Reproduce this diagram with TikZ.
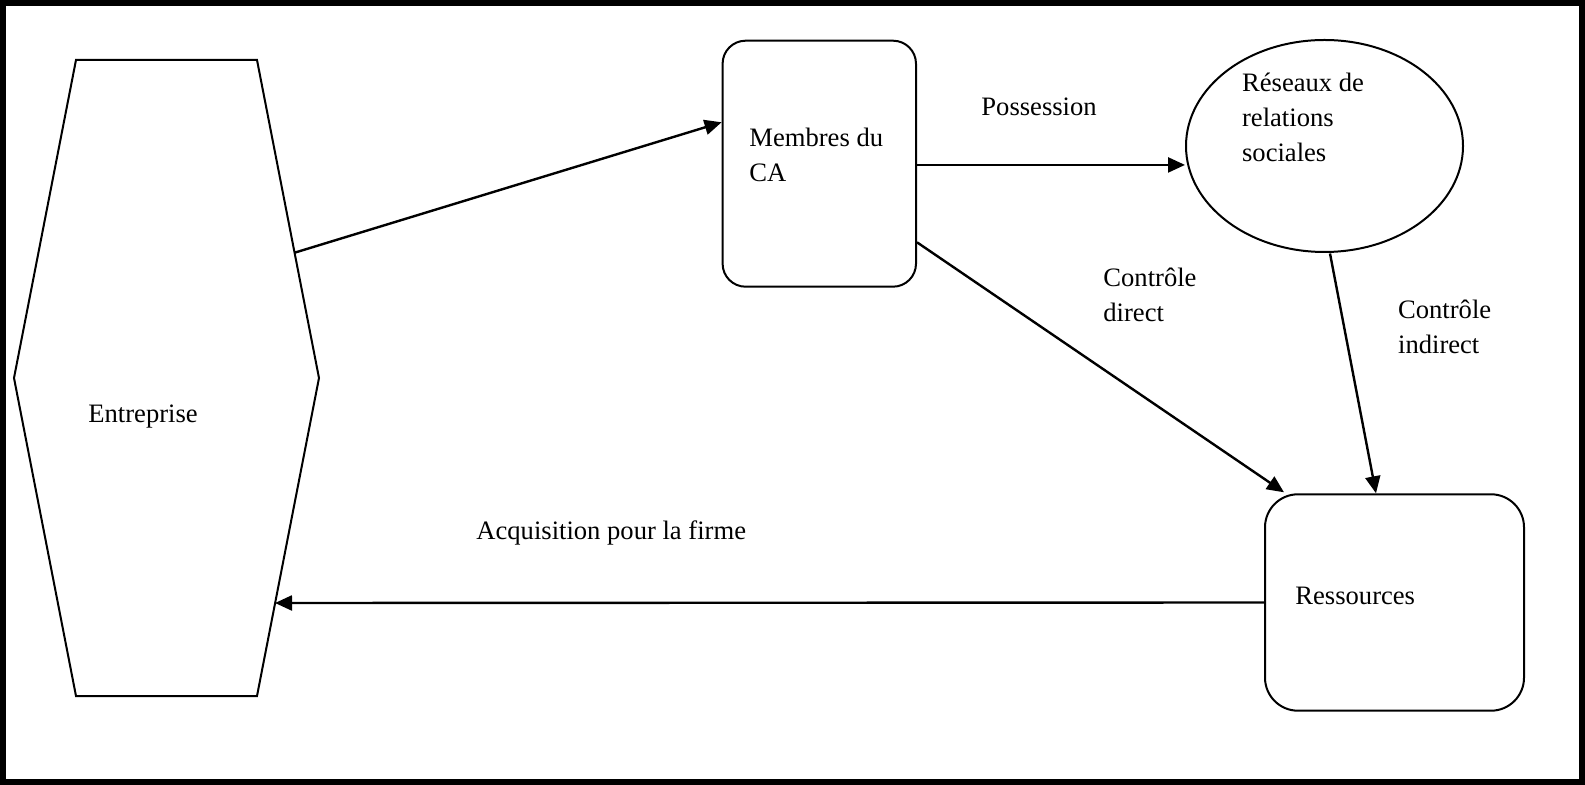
\documentclass[tikz,border=0pt]{standalone}
\usepackage{fontspec}
\setmainfont{Liberation Serif}
\usetikzlibrary{shapes.geometric,arrows.meta,calc}
\begin{document}
\begin{tikzpicture}[x=0.5pt,y=-0.5pt,
  shapeline/.style={draw=black,line width=1pt},
  conn/.style={draw=black,line width=1.2pt,-{Triangle[length=8.5pt,width=7.5pt]}},
  lbl/.style={anchor=base west,inner sep=0pt,align=left,font=\fontsize{13.3}{17.5}\selectfont}]
\useasboundingbox (0,0) rectangle (1585,785);
\fill[white] (0,0) rectangle (1585,785);
\draw[line width=3.2pt] (3.2,3.2) rectangle (1581.8,781.8);
% Entreprise hexagon
\draw[shapeline,line join=miter] (76,60) -- (257,60) -- (319,378) -- (257,696) -- (76,696) -- (14,378) -- cycle;
\coordinate (entA) at (294.6,252.7);
\coordinate (entB) at (275,603);
% Membres du CA
\node[shapeline,rounded corners=11.5pt,minimum width=96.7pt,minimum height=123pt,inner sep=0pt] (mca) at (819.3,163.7) {};
% Reseaux
\node[shapeline,ellipse,minimum width=138.5pt,minimum height=106pt,inner sep=0pt] (ell) at (1324.5,146) {};
% Ressources
\node[shapeline,rounded corners=16.5pt,minimum width=129.5pt,minimum height=108.2pt,inner sep=0pt] (res) at (1394.5,602.5) {};
% texts (base anchor = baseline of the last line)
\node[lbl] (tEnt) at (88,422.7) {Entreprise};
\node[lbl] (tMca) at (749,181.7) {Membres du\\CA};
\node[lbl] (tPos) at (981,115.7) {Possession};
\node[lbl] (tRes) at (1241.7,161.7) {Réseaux de\\relations\\sociales};
\node[lbl] (tCd) at (1103,322) {Contrôle\\direct};
\node[lbl] (tCi) at (1397.7,354) {Contrôle\\indirect};
\node[lbl] (tAcq) at (476,539.3) {Acquisition pour la firme};
\node[lbl] (tRss) at (1295,604.3) {Ressources};
% connectors
\coordinate (mcaP) at ($(mca.north east)!0.505!(mca.south east)$);
\draw[conn] (entA) -- ($(mca.north west)!0.333!(mca.south west)$);
\draw[conn] (mcaP) -- (mcaP -| ell.west);
\draw[conn] ($(mca.north east)!0.817!(mca.south east)$) -- ($(res.north west)+(20,-1)$);
\draw[conn] ($(ell.south)+(5.5,0.5)$) -- ($(res.north)+(-18.5,0)$);
\draw[conn] (res.west) -- (entB);
\end{tikzpicture}
\end{document}
